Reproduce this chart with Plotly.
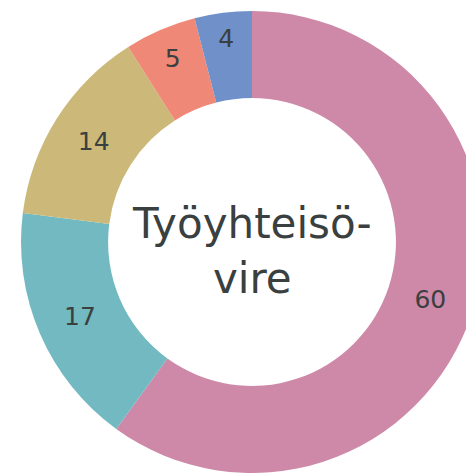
import plotly.graph_objects as go

labels = ["A", "B", "C", "D", "E"]
values = [60, 17, 14, 5, 4]
colors = ["#CE88A8", "#72B9C1", "#CCB979", "#F08877", "#6F90C9"]
center_text = "Työyhteisö-<br>vire"

# page body has an 8px margin; compensate so the donut lands where the reference has it
W, H = 484, 474
cx, cy, R = 244, 234, 231
fig = go.Figure(go.Pie(
    labels=labels,
    values=values,
    hole=0.623,
    sort=False,
    direction="clockwise",
    rotation=0,
    marker=dict(colors=colors, line=dict(width=0)),
    textinfo="value",
    textposition="inside",
    insidetextorientation="horizontal",
    textfont=dict(family="DejaVu Sans", size=25, color="#3a3f40"),
    showlegend=False,
    hoverinfo="none",
    domain=dict(x=[(cx - R) / W, (cx + R) / W], y=[1 - (cy + R) / H, 1 - (cy - R) / H]),
))
fig.add_annotation(
    x=cx / W, y=1 - (cy + 9) / H, xref="paper", yref="paper",
    text=center_text, showarrow=False,
    font=dict(family="DejaVu Sans", size=42, color="#3a3f40"),
    xanchor="center", yanchor="middle",
)
fig.update_layout(
    width=W, height=H,
    margin=dict(l=0, r=0, t=0, b=0),
    paper_bgcolor="white", plot_bgcolor="white",
)
fig.write_html("out.html")
